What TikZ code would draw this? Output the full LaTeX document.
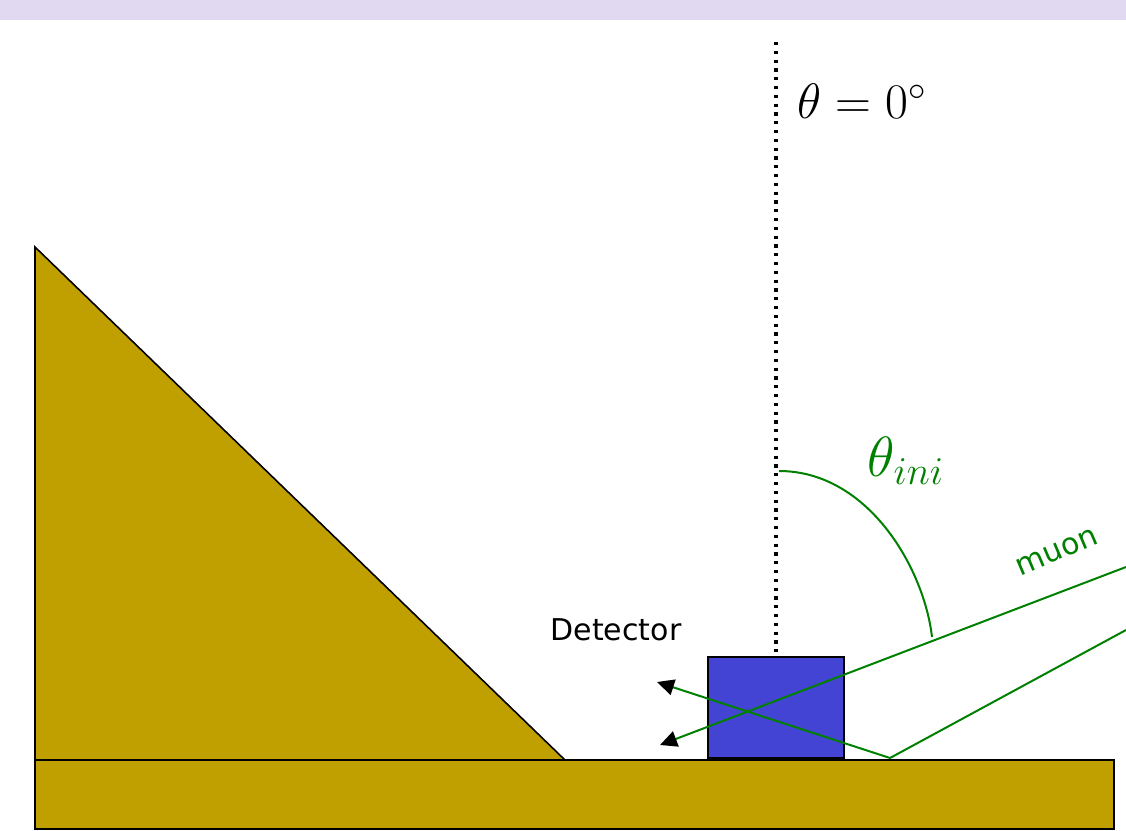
\documentclass[tikz,border=0pt]{standalone}
\usepackage{fontspec}
\setsansfont{DejaVu Sans}
\usetikzlibrary{arrows.meta}

\definecolor{rockgold}{RGB}{192,160,0}
\definecolor{detblue}{RGB}{68,68,212}
\definecolor{muongreen}{RGB}{0,128,0}
\definecolor{bandlilac}{RGB}{225,216,241}

\begin{document}
\begin{tikzpicture}[
    x=0.5pt, y=-0.5pt,
    every node/.style={inner sep=0pt},
    rock/.style={draw, line width=0.8pt, fill=rockgold},
    detbox/.style={draw, line width=0.8pt, fill=detblue, minimum width=68pt, minimum height=50.5pt},
    track/.style={muongreen, line width=1pt},
    ray/.style={track, -{Triangle[length=8.5pt, width=8pt, black]}},
    axis/.style={line width=1.6pt, dash pattern=on 1.6pt off 2.8pt},
    biglabel/.style={font=\fontsize{24}{28}\selectfont},
    anglelabel/.style={font=\fontsize{24}{28}\selectfont, scale=1.14},
    smalllabel/.style={font=\sffamily\fontsize{15}{18}\selectfont}
]
\useasboundingbox (0,0) rectangle (1126,831);
\fill[bandlilac] (0,0) rectangle (1126,20);

% ground and slope
\draw[rock] (35,760) rectangle (1114,829);
\draw[rock] (35,247) -- (35,760) -- (565,760) -- cycle;

% detector
\node[detbox, anchor=south] (det) at (776,759) {};
\node[smalllabel] (detlabel) at (616,630) {Detector};

% vertical reference
\coordinate (zenith) at (776,42);
\draw[axis] (zenith) -- (det.north);
\node[biglabel] (zerolabel) at (862,101) {$\theta = 0^\circ$};

% muon tracks
\coordinate (inA) at (1126,567);
\coordinate (outA) at (660,745);
\coordinate (inB) at (1126,630);
\coordinate (bounce) at (890,758);
\coordinate (outB) at (657,682);
\draw[ray] (inA) -- (outA);
\draw[ray] (inB) -- (bounce) -- (outB);
\node[smalllabel, text=muongreen, rotate=23] (muonlabel) at (1057,552) {muon};

% incidence angle
\coordinate (arcstart) at (779,471);
\coordinate (arcend) at (932,637);
\draw[track] (arcstart) .. controls (868,471) and (924,568) .. (arcend);
\node[anglelabel, text=muongreen] (inilabel) at (906,461) {$\theta_{ini}$};
\end{tikzpicture}
\end{document}
